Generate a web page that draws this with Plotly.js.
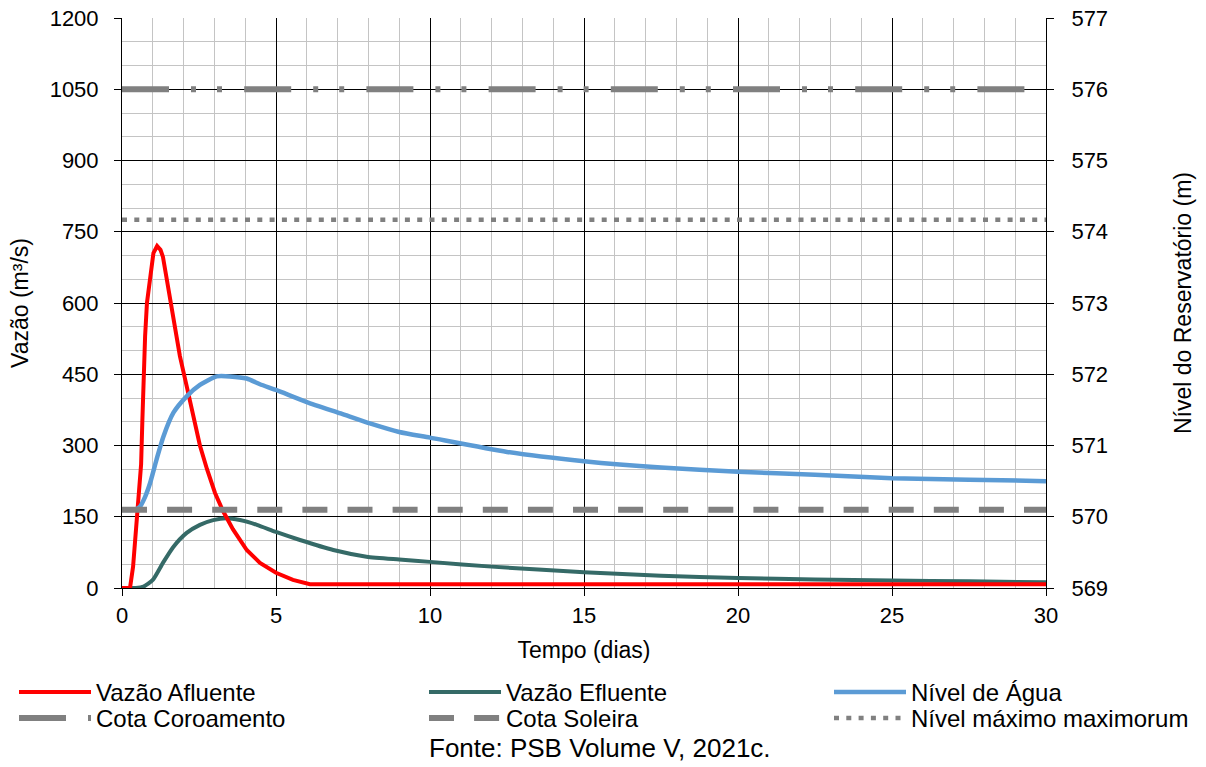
<!DOCTYPE html>
<html>
<head>
<meta charset="utf-8">
<script src="https://cdn.plot.ly/plotly-3.0.1.min.js"></script>
<style>
  html, body { margin: 0; padding: 0; background: #ffffff; }
  #chart { width: 1206px; height: 767px; }
</style>
</head>
<body>
<div id="chart"></div>
<script>
// ---- Data ----
// Vazão Afluente (m³/s)
var tempo_afluente = [0, 0.26, 0.36, 0.48, 0.58, 0.62, 0.66, 0.70, 0.75, 0.81, 0.91, 1.02, 1.14, 1.25, 1.33, 1.5, 1.66, 1.88, 2.1, 2.3, 2.53, 2.76, 3.02, 3.28, 3.6, 4.05, 4.48, 5.0, 5.55, 6.1, 10, 15, 20, 25, 30];
var vazao_afluente = [0, 0, 45, 140, 215, 260, 350, 450, 530, 600, 650, 705, 720, 712, 697, 634, 564, 488, 425, 365, 300, 250, 200, 162, 124, 80, 53, 32, 17, 8, 8, 8, 8, 8, 8];

// Vazão Efluente (m³/s)
var tempo_efluente = [0, 0.45, 0.7, 1.0, 1.33, 1.66, 2.1, 2.53, 2.96, 3.4, 3.83, 4.38, 5.0, 5.78, 6.86, 7.94, 9.0, 10, 12, 15, 17.5, 20, 22.5, 25, 27.5, 30];
var vazao_efluente = [0, 0, 3, 17, 53, 86, 116, 133, 143, 147, 143, 133, 118, 101, 80, 66, 60, 55, 45, 33, 26, 21, 18, 16, 14, 12];

// Nível de Água (m)
var tempo_nivel = [0, 0.42, 0.58, 0.75, 0.91, 1.12, 1.34, 1.67, 2.1, 2.53, 3.07, 3.5, 4.05, 4.48, 5.0, 6.0, 7.1, 8.05, 9.0, 10, 12.5, 15, 17.5, 20, 22.5, 25, 27.5, 30];
var nivel_agua = [570.1, 570.1, 570.14, 570.28, 570.47, 570.8, 571.12, 571.46, 571.69, 571.85, 571.97, 571.97, 571.94, 571.86, 571.78, 571.61, 571.45, 571.31, 571.19, 571.11, 570.91, 570.78, 570.69, 570.63, 570.59, 570.54, 570.52, 570.50];

// Reference levels (m)
var tempo_ref = [0, 30];
var cota_coroamento = [576, 576];
var cota_soleira = [570.1, 570.1];
var nivel_max_max = [574.17, 574.17];

// Axis ticks
var ticks_x = [0, 5, 10, 15, 20, 25, 30];
var ticks_vazao = [0, 150, 300, 450, 600, 750, 900, 1050, 1200];
var ticks_nivel = [569, 570, 571, 572, 573, 574, 575, 576, 577];

var FONT = 'Liberation Sans, Arial, sans-serif';
var GRAY = '#808080';
var W = 1206, H = 767;
var ML = 122, MR = 160, MT = 18, MB = 179;
var PW = W - ML - MR, PH = H - MT - MB;
var TICK_SIZE = 22, TITLE_SIZE = 23, LEG_SIZE = 24;

var traces = [
  { x: tempo_efluente, y: vazao_efluente, name: 'Vazão Efluente', type: 'scatter', mode: 'lines',
    line: { color: '#356A67', width: 4, shape: 'spline', smoothing: 0.6 }, legend: 'legend2', yaxis: 'y' },
  { x: tempo_nivel, y: nivel_agua, name: 'Nível de Água', type: 'scatter', mode: 'lines',
    line: { color: '#5B9BD5', width: 4.5, shape: 'spline', smoothing: 0.6 }, legend: 'legend3', yaxis: 'y2' },
  { x: tempo_afluente, y: vazao_afluente, name: 'Vazão Afluente', type: 'scatter', mode: 'lines',
    line: { color: '#FF0000', width: 4 }, legend: 'legend', yaxis: 'y' },
  { x: tempo_ref, y: cota_coroamento, name: 'Cota Coroamento', type: 'scatter', mode: 'lines',
    line: { color: GRAY, width: 6, dash: '47px,22px,5px,21px,5px,22.2px' }, legend: 'legend4', yaxis: 'y2' },
  { x: tempo_ref, y: cota_soleira, name: 'Cota Soleira', type: 'scatter', mode: 'lines',
    line: { color: GRAY, width: 6, dash: '25px,20.1px' }, legend: 'legend5', yaxis: 'y2' },
  { x: tempo_ref, y: nivel_max_max, name: 'Nível máximo maximorum', type: 'scatter', mode: 'lines',
    line: { color: GRAY, width: 4.5, dash: '5px,7.3px' }, legend: 'legend6', yaxis: 'y2' }
];

function legendCfg(xpx, ytop) {
  return {
    xref: 'paper', yref: 'container',
    x: (xpx - ML) / PW, y: 1 - ytop / H,
    xanchor: 'left', yanchor: 'top',
    orientation: 'v',
    bgcolor: 'rgba(0,0,0,0)', borderwidth: 0,
    itemwidth: 72, tracegroupgap: 0,
    font: { family: FONT, size: LEG_SIZE, color: '#000000' }
  };
}

var axisCommon = {
  showline: true, linecolor: '#000000', linewidth: 1,
  ticks: 'outside', ticklen: 7, tickcolor: '#000000', tickwidth: 1,
  tickfont: { family: FONT, size: TICK_SIZE, color: '#000000' },
  zeroline: false, automargin: false
};

var ROW1 = 670, ROW2 = 696;

var layout = {
  width: W, height: H,
  margin: { l: ML, r: MR, t: MT, b: MB, autoexpand: false },
  paper_bgcolor: '#ffffff', plot_bgcolor: '#ffffff',
  font: { family: FONT, size: TICK_SIZE, color: '#000000' },
  showlegend: true,
  xaxis: Object.assign({}, axisCommon, {
    range: [0, 30], tickmode: 'array', tickvals: ticks_x, ticktext: ticks_x.map(String),
    showgrid: true, gridcolor: '#000000', gridwidth: 1,
    minor: { dtick: 1, tick0: 0, showgrid: true, gridcolor: '#C4C4C4', gridwidth: 1, ticks: '' },
    ticklabelstandoff: 1,
    title: { text: 'Tempo (dias)', font: { family: FONT, size: TITLE_SIZE, color: '#000000' }, standoff: 14 }
  }),
  yaxis: Object.assign({}, axisCommon, {
    range: [0, 1200], tickmode: 'array', tickvals: ticks_vazao, ticktext: ticks_vazao.map(String),
    showgrid: true, gridcolor: '#000000', gridwidth: 1,
    minor: { dtick: 50, tick0: 0, showgrid: true, gridcolor: '#C4C4C4', gridwidth: 1, ticks: '' },
    ticklabelstandoff: 11,
    title: { text: 'Vazão (m³/s)', font: { family: FONT, size: TITLE_SIZE, color: '#000000' }, standoff: 14 }
  }),
  yaxis2: Object.assign({}, axisCommon, {
    range: [569, 577], tickmode: 'array', tickvals: ticks_nivel, ticktext: ticks_nivel.map(String),
    overlaying: 'y', side: 'right', showgrid: false,
    ticklabelstandoff: 13,
    title: { text: 'Nível do Reservatório (m)', font: { family: FONT, size: TITLE_SIZE, color: '#000000' }, standoff: 67 }
  }),
  legend: legendCfg(14, ROW1),
  legend2: legendCfg(424, ROW1),
  legend3: legendCfg(829, ROW1),
  legend4: legendCfg(14, ROW2),
  legend5: legendCfg(424, ROW2),
  legend6: legendCfg(829, ROW2),
  annotations: [{
    xref: 'paper', yref: 'paper',
    x: (600 - ML) / PW, y: -(748 - (H - MB)) / PH,
    xanchor: 'center', yanchor: 'middle',
    text: 'Fonte: PSB Volume V, 2021c.', showarrow: false,
    font: { family: FONT, size: 26, color: '#000000' }
  }]
};

Plotly.newPlot('chart', traces, layout, { displayModeBar: false, staticPlot: true });
</script>
</body>
</html>
